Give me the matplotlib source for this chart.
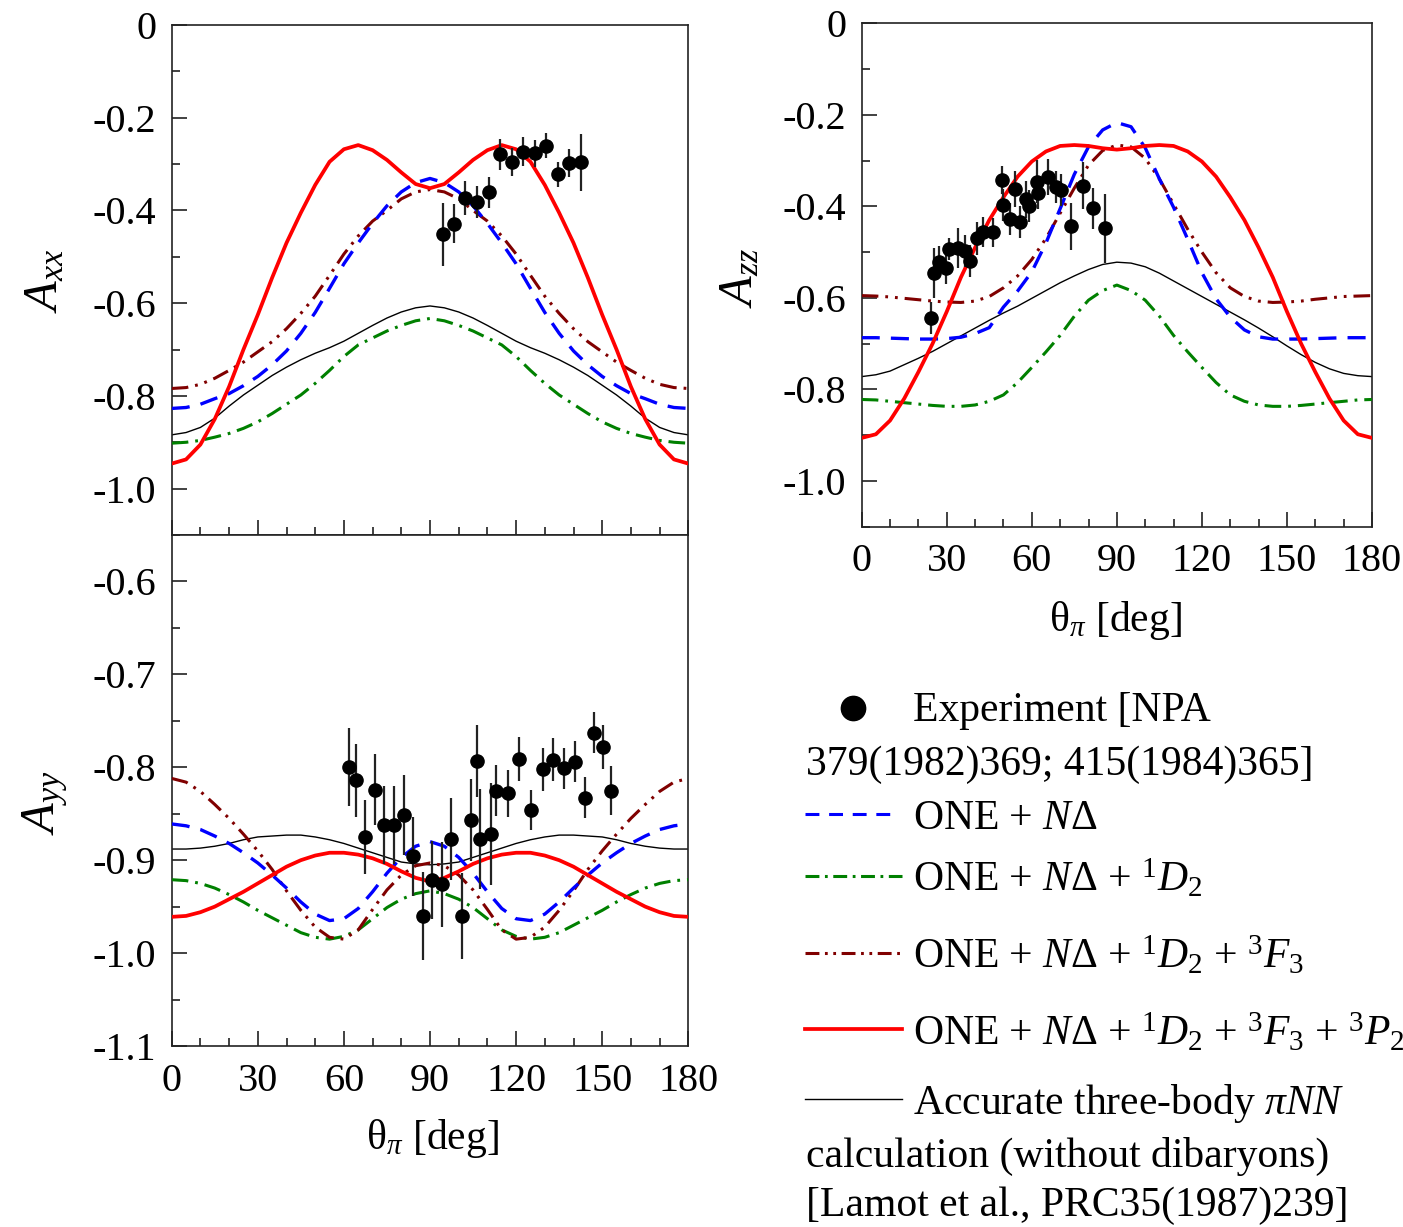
import numpy as np
import matplotlib
matplotlib.use("Agg")
import matplotlib.pyplot as plt
from matplotlib.ticker import MultipleLocator, FuncFormatter
from matplotlib.lines import Line2D

plt.rcParams['font.family'] = ['Liberation Serif', 'DejaVu Serif']
plt.rcParams['mathtext.fontset'] = 'custom'
plt.rcParams['mathtext.rm'] = 'Liberation Serif'
plt.rcParams['mathtext.it'] = 'Liberation Serif:italic'
plt.rcParams['mathtext.bf'] = 'Liberation Serif:bold'
plt.rcParams['axes.unicode_minus'] = False
plt.rcParams['lines.scale_dashes'] = False

# ---------------- data ----------------
theta = [0, 5, 10, 15, 20, 25, 30, 35, 40, 45, 50, 55, 60, 65, 70, 75, 80, 85, 90,
         95, 100, 105, 110, 115, 120, 125, 130, 135, 140, 145, 150, 155, 160, 165,
         170, 175, 180]

# A_xx curves
axx_one_nd = [-0.827, -0.825, -0.818, -0.806, -0.795, -0.778, -0.758, -0.733, -0.703, -0.665,
              -0.620, -0.568, -0.515, -0.470, -0.428, -0.390, -0.360, -0.340, -0.331,
              -0.340, -0.360, -0.390, -0.428, -0.470, -0.515, -0.568, -0.620, -0.665,
              -0.703, -0.733, -0.758, -0.778, -0.795, -0.806, -0.818, -0.825, -0.827]
axx_d2 = [-0.902, -0.900, -0.896, -0.889, -0.881, -0.870, -0.856, -0.838, -0.818, -0.798,
          -0.773, -0.745, -0.715, -0.690, -0.675, -0.660, -0.648, -0.638, -0.633,
          -0.638, -0.648, -0.660, -0.675, -0.690, -0.715, -0.745, -0.773, -0.798,
          -0.818, -0.838, -0.856, -0.870, -0.881, -0.889, -0.896, -0.900, -0.902]
axx_f3 = [-0.784, -0.782, -0.775, -0.762, -0.745, -0.727, -0.705, -0.683, -0.655, -0.622,
          -0.585, -0.540, -0.494, -0.455, -0.423, -0.400, -0.375, -0.360, -0.355,
          -0.360, -0.375, -0.400, -0.423, -0.455, -0.494, -0.540, -0.585, -0.622,
          -0.655, -0.683, -0.705, -0.727, -0.745, -0.762, -0.775, -0.782, -0.784]
axx_p2 = [-0.946, -0.937, -0.905, -0.850, -0.780, -0.700, -0.625, -0.545, -0.470, -0.405,
          -0.345, -0.295, -0.268, -0.259, -0.270, -0.291, -0.318, -0.343, -0.352,
          -0.343, -0.318, -0.291, -0.270, -0.259, -0.268, -0.295, -0.345, -0.405,
          -0.470, -0.545, -0.625, -0.700, -0.780, -0.850, -0.905, -0.937, -0.946]
axx_3body = [-0.884, -0.879, -0.868, -0.848, -0.822, -0.798, -0.777, -0.756, -0.738, -0.722,
             -0.708, -0.696, -0.682, -0.665, -0.648, -0.632, -0.619, -0.610, -0.606,
             -0.610, -0.619, -0.632, -0.648, -0.665, -0.682, -0.696, -0.708, -0.722,
             -0.738, -0.756, -0.777, -0.798, -0.822, -0.848, -0.868, -0.879, -0.884]

# A_yy curves
ayy_one_nd = [-0.861, -0.863, -0.867, -0.874, -0.882, -0.892, -0.903, -0.916, -0.930, -0.945,
              -0.958, -0.965, -0.963, -0.952, -0.934, -0.914, -0.897, -0.885, -0.880,
              -0.885, -0.897, -0.914, -0.934, -0.952, -0.963, -0.965, -0.958, -0.945,
              -0.930, -0.916, -0.903, -0.892, -0.882, -0.874, -0.867, -0.863, -0.861]
ayy_d2 = [-0.921, -0.922, -0.925, -0.930, -0.937, -0.945, -0.954, -0.962, -0.970, -0.978,
          -0.983, -0.985, -0.982, -0.975, -0.963, -0.951, -0.942, -0.936, -0.933,
          -0.936, -0.942, -0.951, -0.963, -0.975, -0.982, -0.985, -0.983, -0.978,
          -0.970, -0.962, -0.954, -0.945, -0.937, -0.930, -0.925, -0.922, -0.921]
ayy_f3 = [-0.812, -0.816, -0.826, -0.840, -0.855, -0.872, -0.890, -0.910, -0.933, -0.954,
          -0.972, -0.983, -0.985, -0.975, -0.953, -0.932, -0.916, -0.906, -0.903,
          -0.906, -0.916, -0.932, -0.953, -0.975, -0.985, -0.983, -0.972, -0.954,
          -0.933, -0.910, -0.890, -0.872, -0.855, -0.840, -0.826, -0.816, -0.812]
ayy_p2 = [-0.961, -0.960, -0.956, -0.950, -0.942, -0.934, -0.925, -0.916, -0.907, -0.900,
          -0.895, -0.892, -0.892, -0.894, -0.898, -0.904, -0.912, -0.919, -0.923,
          -0.919, -0.912, -0.904, -0.898, -0.894, -0.892, -0.892, -0.895, -0.900,
          -0.907, -0.916, -0.925, -0.934, -0.942, -0.950, -0.956, -0.960, -0.961]
ayy_3body = [-0.888, -0.888, -0.887, -0.885, -0.882, -0.878, -0.875, -0.874, -0.873, -0.873,
             -0.875, -0.878, -0.882, -0.887, -0.892, -0.897, -0.902, -0.904, -0.905,
             -0.904, -0.902, -0.897, -0.892, -0.887, -0.882, -0.878, -0.875, -0.873,
             -0.873, -0.874, -0.875, -0.878, -0.882, -0.885, -0.887, -0.888, -0.888]

# A_zz curves
azz_one_nd = [-0.687, -0.687, -0.688, -0.689, -0.690, -0.690, -0.689, -0.686, -0.678, -0.665,
              -0.620, -0.585, -0.543, -0.480, -0.405, -0.330, -0.270, -0.233, -0.217,
              -0.226, -0.272, -0.340, -0.402, -0.472, -0.545, -0.602, -0.642, -0.670,
              -0.685, -0.690, -0.690, -0.690, -0.689, -0.688, -0.687, -0.687, -0.687]
azz_d2 = [-0.822, -0.823, -0.826, -0.829, -0.832, -0.835, -0.837, -0.837, -0.834, -0.826,
          -0.812, -0.785, -0.752, -0.718, -0.682, -0.640, -0.605, -0.584, -0.572,
          -0.584, -0.605, -0.640, -0.682, -0.718, -0.752, -0.785, -0.812, -0.826,
          -0.834, -0.837, -0.837, -0.835, -0.832, -0.829, -0.826, -0.823, -0.822]
azz_f3 = [-0.595, -0.596, -0.598, -0.601, -0.604, -0.607, -0.609, -0.610, -0.607, -0.597,
          -0.578, -0.552, -0.516, -0.470, -0.415, -0.360, -0.310, -0.278, -0.266,
          -0.270, -0.295, -0.340, -0.395, -0.450, -0.500, -0.545, -0.578, -0.597,
          -0.607, -0.610, -0.609, -0.607, -0.603, -0.600, -0.597, -0.596, -0.595]
azz_p2 = [-0.906, -0.898, -0.868, -0.820, -0.762, -0.700, -0.630, -0.555, -0.490, -0.430,
          -0.380, -0.335, -0.302, -0.280, -0.268, -0.266, -0.268, -0.273, -0.276,
          -0.273, -0.268, -0.266, -0.268, -0.280, -0.302, -0.335, -0.380, -0.430,
          -0.490, -0.555, -0.630, -0.700, -0.762, -0.820, -0.868, -0.898, -0.906]
azz_3body = [-0.772, -0.768, -0.760, -0.746, -0.732, -0.717, -0.700, -0.683, -0.666, -0.649,
             -0.633, -0.618, -0.601, -0.584, -0.567, -0.552, -0.538, -0.527, -0.522,
             -0.524, -0.532, -0.546, -0.563, -0.580, -0.597, -0.614, -0.631, -0.648,
             -0.666, -0.685, -0.705, -0.724, -0.741, -0.755, -0.765, -0.770, -0.772]

# experimental points
axx_exp_theta = [94.4, 98.4, 102.2, 106.5, 110.6, 114.4, 118.5, 122.5, 126.6, 130.4, 134.5, 138.4, 142.6]
axx_exp_val = [-0.451, -0.429, -0.373, -0.382, -0.361, -0.279, -0.295, -0.273, -0.277, -0.260, -0.322, -0.298, -0.296]
axx_exp_err = [0.068, 0.042, 0.037, 0.035, 0.034, 0.033, 0.030, 0.031, 0.029, 0.027, 0.027, 0.030, 0.061]

ayy_exp_theta = [61.8, 64.2, 67.4, 70.7, 73.9, 77.6, 80.9, 84.2, 87.7, 90.7, 94.1, 97.2, 101.0,
                 104.3, 106.3, 107.4, 111.1, 113.0, 117.1, 121.0, 125.2, 129.3, 133.0, 136.8,
                 140.5, 144.0, 147.1, 150.4, 153.1]
ayy_exp_val = [-0.800, -0.814, -0.875, -0.824, -0.862, -0.862, -0.851, -0.896, -0.960, -0.921,
               -0.926, -0.877, -0.960, -0.857, -0.793, -0.877, -0.872, -0.825, -0.828, -0.791,
               -0.846, -0.802, -0.792, -0.801, -0.794, -0.833, -0.763, -0.778, -0.825]
ayy_exp_err = [0.042, 0.039, 0.040, 0.038, 0.042, 0.042, 0.043, 0.043, 0.047, 0.042, 0.046,
               0.044, 0.046, 0.044, 0.039, 0.054, 0.055, 0.027, 0.025, 0.024, 0.022, 0.023,
               0.023, 0.022, 0.022, 0.022, 0.022, 0.024, 0.026]

azz_exp_theta = [24.3, 25.6, 27.4, 29.7, 30.9, 33.8, 36.4, 38.1, 40.5, 42.7, 46.2, 49.4, 49.7,
                 52.3, 53.9, 55.8, 57.8, 59.0, 61.7, 62.2, 65.8, 68.4, 70.3, 73.9, 78.0, 81.7, 85.8]
azz_exp_val = [-0.644, -0.546, -0.522, -0.535, -0.493, -0.491, -0.497, -0.520, -0.470, -0.456,
               -0.457, -0.342, -0.397, -0.427, -0.362, -0.434, -0.385, -0.399, -0.346, -0.370,
               -0.336, -0.357, -0.364, -0.444, -0.355, -0.404, -0.448]
azz_exp_err = [0.035, 0.055, 0.035, 0.035, 0.024, 0.044, 0.035, 0.035, 0.036, 0.033, 0.031,
               0.031, 0.035, 0.035, 0.040, 0.035, 0.040, 0.035, 0.047, 0.035, 0.040, 0.035,
               0.035, 0.051, 0.051, 0.045, 0.075]

x_ticklabels = ['0', '30', '60', '90', '120', '150', '180']

# ---------------- styles ----------------
W, H = 1403, 1227
S_ND = dict(color='#0000FF', lw=2.4, dashes=(13, 8))
S_D2 = dict(color='#008000', lw=2.2, dashes=(12, 5, 2, 5))
S_F3 = dict(color='#800000', lw=2.2, dashes=(12, 5, 2, 5, 2, 5))
S_P2 = dict(color='#FF0000', lw=2.7, linestyle='-')
S_3B = dict(color='black', lw=1.0, linestyle='-')

fig = plt.figure(figsize=(W / 100, H / 100), dpi=100)


def px_rect(x0, y0, x1, y1):
    return [x0 / W, 1 - y1 / H, (x1 - x0) / W, (y1 - y0) / H]


ax_xx = fig.add_axes(px_rect(171.7, 25, 688.3, 535))
ax_yy = fig.add_axes(px_rect(171.7, 535, 688.3, 1046))
ax_zz = fig.add_axes(px_rect(861.7, 23.3, 1372, 526.7))


def yfmt(v, pos):
    if abs(v) < 1e-9:
        return '0'
    return '%.1f' % v


def style(ax, ylim, ymaj, ymin, xlabels):
    ax.set_xlim(0, 180)
    ax.set_ylim(*ylim)
    ax.xaxis.set_major_locator(MultipleLocator(30))
    ax.xaxis.set_minor_locator(MultipleLocator(10))
    ax.yaxis.set_major_locator(MultipleLocator(ymaj))
    ax.yaxis.set_minor_locator(MultipleLocator(ymin))
    ax.yaxis.set_major_formatter(FuncFormatter(yfmt))
    ax.tick_params(which='both', direction='in', top=False, right=False,
                   color='#333333', width=1.3, labelsize=29)
    ax.tick_params(which='major', length=10.5)
    ax.tick_params(which='minor', length=5.5)
    ax.tick_params(axis='y', pad=11)
    ax.tick_params(axis='x', pad=12)
    if xlabels:
        ax.set_xticks([0, 30, 60, 90, 120, 150, 180])
        ax.set_xticklabels(x_ticklabels)
    else:
        ax.tick_params(axis='x', labelbottom=False)
    for sp in ax.spines.values():
        sp.set_linewidth(1.2)
        sp.set_color('#222222')


def draw(ax, nd, d2, f3, p2, b3, et, ev, ee):
    ax.plot(theta, b3, **S_3B, zorder=2)
    ax.plot(theta, d2, **S_D2, zorder=3)
    ax.plot(theta, f3, **S_F3, zorder=3)
    ax.plot(theta, nd, **S_ND, zorder=3)
    ax.plot(theta, p2, **S_P2, zorder=4)
    ax.errorbar(et, ev, yerr=ee, fmt='o', ms=9.5, color='black', ecolor='#222222',
                elinewidth=1.6, capsize=0, zorder=5)


draw(ax_xx, axx_one_nd, axx_d2, axx_f3, axx_p2, axx_3body, axx_exp_theta, axx_exp_val, axx_exp_err)
draw(ax_yy, ayy_one_nd, ayy_d2, ayy_f3, ayy_p2, ayy_3body, ayy_exp_theta, ayy_exp_val, ayy_exp_err)
draw(ax_zz, azz_one_nd, azz_d2, azz_f3, azz_p2, azz_3body, azz_exp_theta, azz_exp_val, azz_exp_err)

style(ax_xx, (-1.1, 0), 0.2, 0.1, False)
style(ax_yy, (-1.1, -0.55), 0.1, 0.05, True)
style(ax_zz, (-1.1, 0), 0.2, 0.1, True)

# axis labels
fig.text(45 / W, 1 - 281 / H, r'$A_{xx}$', rotation=90, ha='center', va='center', fontsize=35)
fig.text(45 / W, 1 - 803 / H, r'$A_{yy}$', rotation=90, ha='center', va='center', fontsize=35)
fig.text(740 / W, 1 - 278 / H, r'$A_{zz}$', rotation=90, ha='center', va='center', fontsize=35)
fig.text(432 / W, 1 - 1138 / H, r'θ$_{\pi}$ [deg]', ha='center', va='center', fontsize=30)
fig.text(1115 / W, 1 - 620 / H, r'θ$_{\pi}$ [deg]', ha='center', va='center', fontsize=30)

# legend (drawn by hand to reproduce the wrapped layout)
LFS = 30


def ltext(x, y, s):
    fig.text(x / W, 1 - y / H, s, ha='left', va='baseline', fontsize=LFS)


def lline(y, style, x0=805, x1=902):
    st = dict(style)
    fig.add_artist(Line2D([x0 / W, x1 / W], [1 - y / H, 1 - y / H],
                          transform=fig.transFigure, **st))


fig.add_artist(Line2D([852.8 / W], [1 - 708 / H], marker='o', ms=17.5, color='black',
                      linestyle='none', transform=fig.transFigure))
ltext(913, 721, 'Experiment [NPA')
ltext(806, 775, '379(1982)369; 415(1984)365]')
lline(814, dict(color='#0000FF', lw=2.2, dashes=(10, 7)), x1=893)
ltext(913, 829, r'ONE + $N\Delta$')
lline(876, dict(color='#008000', lw=2.2, dashes=(10, 4, 2, 4)))
ltext(913, 891, r'ONE + $N\Delta$ + ${}^{1}D_{2}$')
lline(953, dict(color='#800000', lw=2.2, dashes=(10, 4, 2, 4, 2, 4)))
ltext(913, 968, r'ONE + $N\Delta$ + ${}^{1}D_{2}$ + ${}^{3}F_{3}$')
lline(1029, dict(color='#FF0000', lw=2.7, linestyle='-'))
ltext(913, 1045, r'ONE + $N\Delta$ + ${}^{1}D_{2}$ + ${}^{3}F_{3}$ + ${}^{3}P_{2}$')
lline(1099, dict(color='black', lw=1.0, linestyle='-'))
ltext(913, 1114, r'Accurate three-body $\pi NN$')
ltext(806, 1167, 'calculation (without dibaryons)')
ltext(806, 1216, '[Lamot et al., PRC35(1987)239]')

fig.savefig('out.png', dpi=100, facecolor='white')
